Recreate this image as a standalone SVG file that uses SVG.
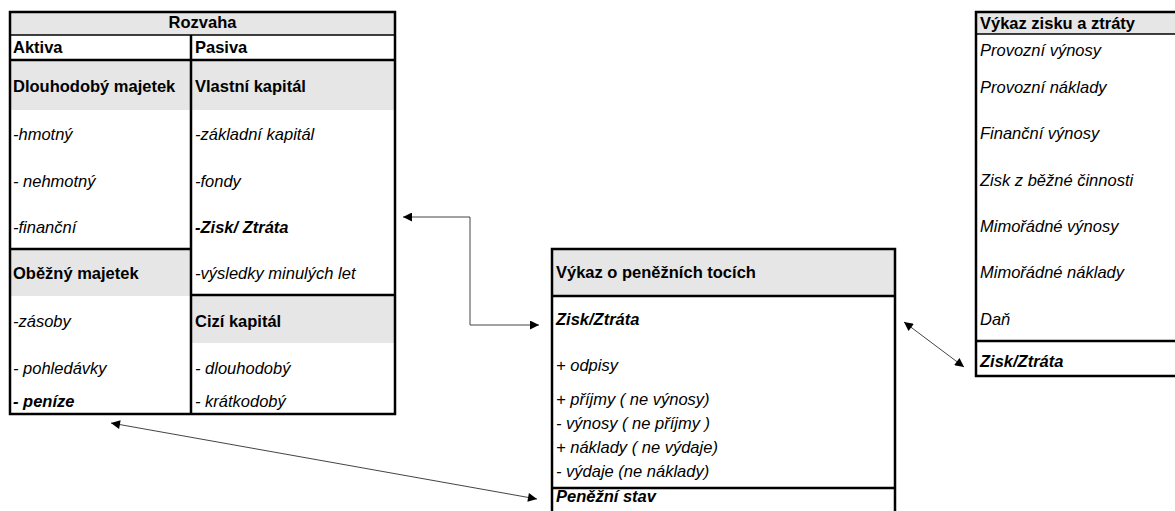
<svg xmlns="http://www.w3.org/2000/svg" width="1175" height="511" viewBox="0 0 1175 511">
<defs>
<style>
text{font-family:"Liberation Sans",Arial,sans-serif;font-size:16.5px;fill:#000}
.b{font-weight:bold}
.i{font-style:italic}
.bi{font-weight:bold;font-style:italic}
.g{fill:#e6e6e6}
.bd{stroke:#000;stroke-width:2.5;fill:none}
.th{stroke:#000;stroke-width:1.5;fill:none}
.conn{stroke:#444;stroke-width:1;fill:none}
</style>
<marker id="ah" viewBox="0 0 10 10" refX="10" refY="5" markerWidth="11" markerHeight="9" markerUnits="userSpaceOnUse" orient="auto-start-reverse">
<path d="M0,0 L10,5 L0,10 z" fill="#000"/>
</marker>
</defs>
<rect width="1175" height="511" fill="#fff"/>

<g id="rozvaha">
<rect class="g" x="10" y="12" width="385" height="23"/>
<rect class="g" x="10" y="61" width="385" height="49"/>
<rect class="g" x="10" y="250" width="181" height="46"/>
<rect class="g" x="191" y="296" width="204" height="47"/>
<rect class="bd" x="10" y="12" width="385" height="402"/>
<line class="th" x1="10" y1="35" x2="395" y2="35"/>
<line class="bd" x1="10" y1="60" x2="395" y2="60"/>
<line class="bd" x1="191" y1="35" x2="191" y2="414"/>
<line class="bd" x1="10" y1="249" x2="191" y2="249"/>
<line class="bd" x1="191" y1="295" x2="395" y2="295"/>
<text class="b" x="202.5" y="28" text-anchor="middle">Rozvaha</text>
<text class="b" x="13" y="53">Aktiva</text>
<text class="b" x="195" y="53">Pasiva</text>
<text class="b" x="13" y="92">Dlouhodobý majetek</text>
<text class="b" x="195" y="92">Vlastní kapitál</text>
<text class="i" x="13" y="140">-hmotný</text>
<text class="i" x="195" y="140">-základní kapitál</text>
<text class="i" x="13" y="187">- nehmotný</text>
<text class="i" x="195" y="187">-fondy</text>
<text class="i" x="13" y="233">-finanční</text>
<text class="bi" x="195" y="233">-Zisk/ Ztráta</text>
<text class="b" x="13" y="279">Oběžný majetek</text>
<text class="i" x="195" y="279">-výsledky minulých let</text>
<text class="i" x="13" y="327">-zásoby</text>
<text class="b" x="195" y="327">Cizí kapitál</text>
<text class="i" x="13" y="374">- pohledávky</text>
<text class="i" x="195" y="374">- dlouhodobý</text>
<text class="bi" x="13" y="407">- peníze</text>
<text class="i" x="195" y="407">- krátkodobý</text>
</g>

<g id="penezni-toky">
<rect class="g" x="552" y="249" width="343" height="46"/>
<path class="bd" d="M552,520 V249 H895 V520"/>
<line class="bd" x1="552" y1="296" x2="895" y2="296"/>
<line class="bd" x1="552" y1="488" x2="895" y2="488"/>
<text class="b" x="556" y="278">Výkaz o peněžních tocích</text>
<text class="bi" x="556" y="325">Zisk/Ztráta</text>
<text class="i" x="556" y="371">+ odpisy</text>
<text class="i" x="556" y="405">+ příjmy ( ne výnosy)</text>
<text class="i" x="556" y="429">- výnosy ( ne příjmy )</text>
<text class="i" x="556" y="453">+ náklady ( ne výdaje)</text>
<text class="i" x="556" y="477">- výdaje (ne náklady)</text>
<text class="bi" x="556" y="502">Peněžní stav</text>
</g>

<g id="vzz">
<rect class="g" x="976" y="12" width="210" height="22"/>
<path class="bd" d="M1180,12 H976 V376 H1180"/>
<line class="th" x1="976" y1="34" x2="1180" y2="34"/>
<line class="bd" x1="976" y1="341" x2="1180" y2="341"/>
<text class="b" x="980" y="29">Výkaz zisku a ztráty</text>
<text class="i" x="980" y="56">Provozní výnosy</text>
<text class="i" x="980" y="93">Provozní náklady</text>
<text class="i" x="980" y="139">Finanční výnosy</text>
<text class="i" x="980" y="186">Zisk z běžné činnosti</text>
<text class="i" x="980" y="232">Mimořádné výnosy</text>
<text class="i" x="980" y="278">Mimořádné náklady</text>
<text class="i" x="980" y="325">Daň</text>
<text class="bi" x="980" y="367">Zisk/Ztráta</text>
</g>

<g id="connectors">
<path class="conn" d="M403,217 H470 V325 H539" marker-start="url(#ah)" marker-end="url(#ah)"/>
<line class="conn" x1="904" y1="322" x2="964" y2="367" marker-start="url(#ah)" marker-end="url(#ah)"/>
<line class="conn" x1="111" y1="423" x2="537" y2="499" marker-start="url(#ah)" marker-end="url(#ah)"/>
</g>
</svg>
